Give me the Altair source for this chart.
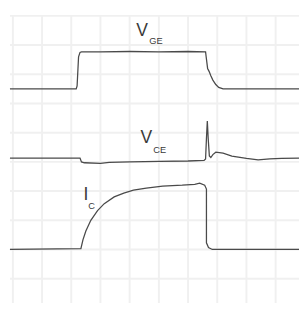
import altair as alt
import pandas as pd

# Trace values in oscilloscope divisions (x: time div, y: vertical div)
vge_x = [-0.1, 2.17, 2.2, 2.25, 2.3, 2.35, 3.0, 4.0, 5.0, 6.0, 6.6, 6.62, 6.67, 6.72, 6.78, 6.85, 6.95, 7.05, 7.2, 8.0, 9.0, 9.8]
vge_y = [7.5, 7.5, 7.6, 8.6, 8.75, 8.77, 8.77, 8.78, 8.77, 8.78, 8.77, 8.6, 8.2, 8.1, 7.95, 7.8, 7.65, 7.55, 7.5, 7.5, 7.5, 7.5]

vce_x = [-0.1, 2.3, 2.35, 2.45, 3.0, 3.3, 4.0, 5.0, 6.0, 6.55, 6.6, 6.63, 6.66, 6.69, 6.73, 6.78, 6.85, 6.95, 7.2, 7.5, 8.0, 8.4, 8.8, 9.2, 9.8]
vce_y = [5.13, 5.13, 5.0, 4.97, 4.95, 4.98, 5.0, 5.02, 5.03, 5.05, 5.1, 5.8, 6.4, 5.8, 5.2, 5.15, 5.25, 5.33, 5.3, 5.2, 5.12, 5.07, 5.1, 5.12, 5.13]

ic_x = [-0.1, 2.33, 2.4, 2.5, 2.67, 2.9, 3.13, 3.47, 3.8, 4.13, 4.57, 5.13, 5.8, 6.23, 6.4, 6.57, 6.63, 6.63, 6.7, 6.83, 9.8]
ic_y = [2.0, 2.03, 2.33, 2.63, 3.0, 3.33, 3.57, 3.8, 3.93, 4.03, 4.1, 4.17, 4.2, 4.23, 4.27, 4.2, 4.07, 2.23, 2.07, 2.0, 2.0]

main_text = ["V", "V", "I"]
main_x = [4.43, 4.57, 2.5]
main_y = [9.47, 5.8, 3.87]
sub_text = ["GE", "CE", "C"]
sub_x = [4.9, 5.03, 2.7]
sub_y = [9.15, 5.42, 3.5]

grid_x = list(range(0, 10))
grid_y = list(range(1, 11))

rows = []
for name, xs, ys in [("VGE", vge_x, vge_y), ("VCE", vce_x, vce_y), ("IC", ic_x, ic_y)]:
    for i, (x, y) in enumerate(zip(xs, ys)):
        rows.append({"series": name, "i": i, "x": x, "y": y})
df = pd.DataFrame(rows)

main_df = pd.DataFrame({"t": main_text, "x": main_x, "y": main_y})
sub_df = pd.DataFrame({"t": sub_text, "x": sub_x, "y": sub_y})
gx_df = pd.DataFrame({"g": grid_x})
gy_df = pd.DataFrame({"g": grid_y})

xscale = alt.Scale(domain=[-0.1, 9.8], nice=False, zero=False)
yscale = alt.Scale(domain=[0.167, 10.033], nice=False, zero=False)
grid_col = "#f0f0f0"

vgrid = alt.Chart(gx_df).mark_rule(color=grid_col, strokeWidth=2).encode(
    x=alt.X("g:Q", scale=xscale, axis=None))
hgrid = alt.Chart(gy_df).mark_rule(color=grid_col, strokeWidth=2).encode(
    y=alt.Y("g:Q", scale=yscale, axis=None))

lines = alt.Chart(df).mark_line(color="#4a4a4a", strokeWidth=1.3).encode(
    x=alt.X("x:Q", scale=xscale, axis=None),
    y=alt.Y("y:Q", scale=yscale, axis=None),
    detail="series:N",
    order="i:Q",
)

main_lbl = alt.Chart(main_df).mark_text(font="Liberation Sans", fontSize=18, color="#3a3a3a").encode(
    x=alt.X("x:Q", scale=xscale, axis=None), y=alt.Y("y:Q", scale=yscale, axis=None), text="t:N")
sub_lbl = alt.Chart(sub_df).mark_text(font="Liberation Sans", fontSize=9.5, color="#3a3a3a").encode(
    x=alt.X("x:Q", scale=xscale, axis=None), y=alt.Y("y:Q", scale=yscale, axis=None), text="t:N")

chart = alt.layer(vgrid, hgrid, lines, main_lbl, sub_lbl).properties(
    width=297, height=296,
    autosize=alt.AutoSizeParams(type="none"),
    padding={"left": 2, "top": 3, "right": 0, "bottom": 0},
).configure_view(stroke=None)

chart.save("out.html", embed_options={"renderer": "svg", "actions": False})
